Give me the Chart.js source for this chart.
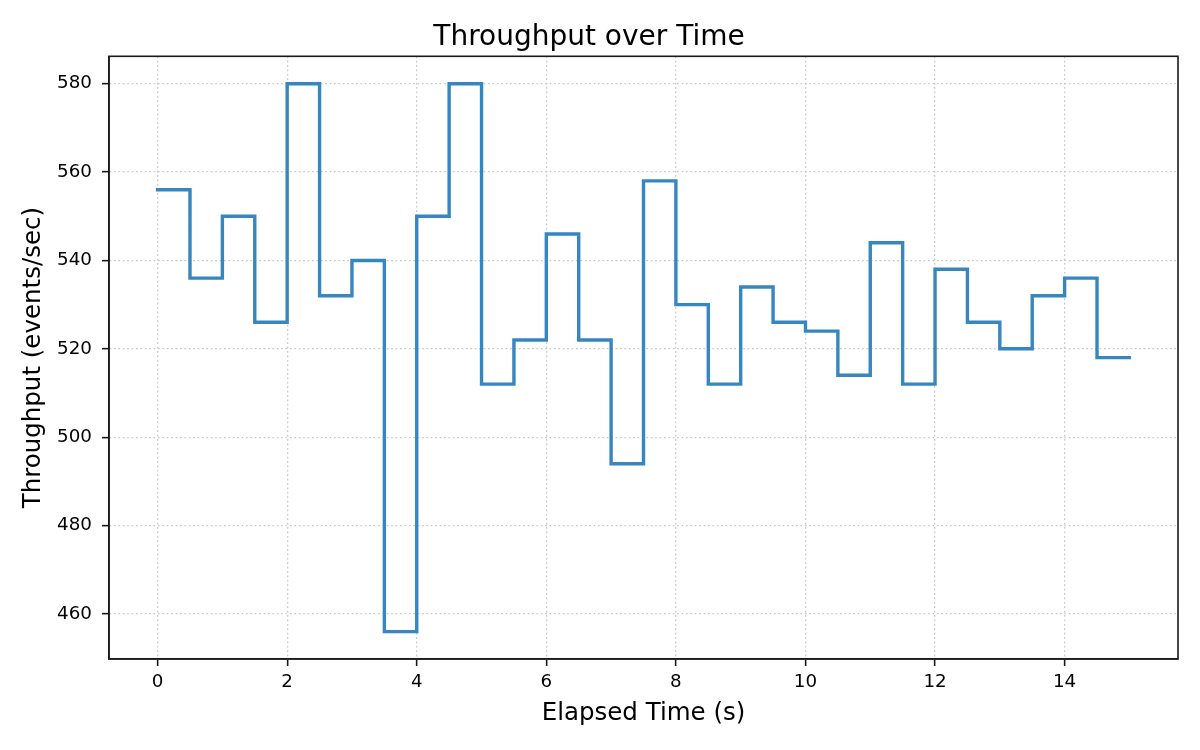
<!DOCTYPE html>
<html>
<head>
<meta charset="utf-8">
<script src="https://cdn.jsdelivr.net/npm/chart.js@4"></script>
<style>
html,body{margin:0;padding:0;background:#fff;}
#wrap{width:1200px;height:750px;position:relative;}
</style>
</head>
<body>
<div id="wrap"><canvas id="c"></canvas></div>
<script>
const elapsedTime = [0,0.5,1,1.5,2,2.5,3,3.5,4,4.5,5,5.5,6,6.5,7,7.5,8,8.5,9,9.5,10,10.5,11,11.5,12,12.5,13,13.5,14,14.5,15];
const throughput = [556,536,550,526,580,532,540,456,550,580,512,522,546,522,494,558,530,512,534,526,524,514,544,512,538,526,520,532,536,518,518];
const xTicks = [0,2,4,6,8,10,12,14];
const yTicks = [460,480,500,520,540,560,580];
const titleText = 'Throughput over Time';
const xLabel = 'Elapsed Time (s)';
const yLabel = 'Throughput (events/sec)';

const FONT = "'DejaVu Sans', sans-serif";
const points = elapsedTime.map((t, i) => ({x: t, y: throughput[i]}));

const frame = {
  id: 'frame',
  afterDraw(chart) {
    const a = chart.chartArea, ctx = chart.ctx;
    ctx.save();
    ctx.strokeStyle = '#1a1a1a';
    ctx.lineWidth = 1.6;
    ctx.strokeRect(a.left, a.top, a.right - a.left, a.bottom - a.top);
    ctx.restore();
  }
};

new Chart(document.getElementById('c'), {
  type: 'line',
  data: {
    datasets: [{
      data: points,
      stepped: 'before',
      borderColor: '#3686c0',
      borderWidth: 3.4,
      pointRadius: 0,
      fill: false,
      borderJoinStyle: 'miter',
      borderCapStyle: 'square'
    }]
  },
  options: {
    responsive: true,
    maintainAspectRatio: false,
    animation: false,
    layout: {padding: {left: 0, right: 22, top: 0, bottom: 0}},
    plugins: {
      legend: {display: false},
      tooltip: {enabled: false},
      title: {
        display: true,
        text: titleText,
        color: '#000',
        font: {family: FONT, size: 28, weight: 'normal', lineHeight: 1.2},
        padding: {top: 21, bottom: 1.7}
      }
    },
    scales: {
      x: {
        type: 'linear',
        min: -0.75,
        max: 15.75,
        afterBuildTicks(s) { s.ticks = xTicks.map(v => ({value: v})); },
        afterFit(s) { s.height = 91; },
        ticks: {
          color: '#000',
          font: {family: FONT, size: 18.3},
          padding: 5,
          maxRotation: 0,
          includeBounds: false,
          autoSkip: false
        },
        grid: {
          color: '#c8c8c8',
          lineWidth: 1.3,
          tickLength: 7,
          tickColor: '#1a1a1a',
          tickWidth: 1.6
        },
        border: {display: true, color: '#1a1a1a', width: 1.6, dash: [1.7, 2.7]},
        title: {
          display: true,
          text: xLabel,
          color: '#000',
          font: {family: FONT, size: 24.5, lineHeight: 1.2},
          padding: {top: 0, bottom: 22}
        }
      },
      y: {
        type: 'linear',
        min: 449.8,
        max: 586.2,
        afterBuildTicks(s) { s.ticks = yTicks.map(v => ({value: v})); },
        afterFit(s) { s.width = 109; },
        ticks: {
          color: '#000',
          font: {family: FONT, size: 18.3},
          padding: 10,
          includeBounds: false,
          autoSkip: false
        },
        grid: {
          color: '#c8c8c8',
          lineWidth: 1.3,
          tickLength: 7,
          tickColor: '#1a1a1a',
          tickWidth: 1.6
        },
        border: {display: true, color: '#1a1a1a', width: 1.6, dash: [1.7, 2.7]},
        title: {
          display: true,
          text: yLabel,
          color: '#000',
          font: {family: FONT, size: 24.5, lineHeight: 1.2},
          padding: {top: 19, bottom: 0}
        }
      }
    }
  },
  plugins: [frame]
});
</script>
</body>
</html>
